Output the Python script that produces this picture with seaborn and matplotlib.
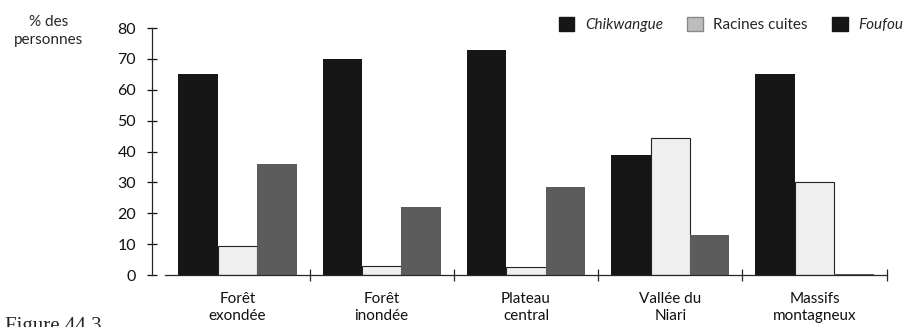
import matplotlib
matplotlib.use("Agg")
import matplotlib.pyplot as plt
from matplotlib.patches import Patch
import seaborn as sns
import pandas as pd

# données
regions = ["Forêt\nexondée", "Forêt\ninondée", "Plateau\ncentral", "Vallée du\nNiari", "Massifs\nmontagneux"]
produits = ["Chikwangue", "Racines cuites", "Foufou"]
chikwangue = [65, 70, 73, 39, 65]
racines_cuites = [9.5, 3, 2.5, 44.5, 30]
foufou = [36, 22, 28.5, 13, 0.3]

df = pd.DataFrame({
    "region": regions * 3,
    "produit": [p for p in produits for _ in regions],
    "pct": chikwangue + racines_cuites + foufou,
})

sns.set_style("white")
plt.rcParams["font.family"] = ["Lato", "DejaVu Sans"]

couleurs = {"Chikwangue": "#161616", "Racines cuites": "#efefef", "Foufou": "#5c5c5c"}

fig = plt.figure(figsize=(9.17, 3.27), dpi=100)
ax = fig.add_axes([0.166, 0.159, 0.801, 0.755])
sns.barplot(data=df, x="region", y="pct", hue="produit", hue_order=produits,
            palette=couleurs, width=0.82, saturation=1, linewidth=0, ax=ax, legend=False)

# contour fin pour les racines cuites
for b in ax.containers[1]:
    b.set_edgecolor("#222222")
    b.set_linewidth(0.8)

ax.set_ylim(0, 80)
ax.set_xlim(-0.59, 4.5)
ax.set_xlabel("")
ax.set_ylabel("")
ax.set_yticks(range(0, 81, 10))
ax.tick_params(axis="y", left=True, direction="inout", length=7, width=0.9,
               labelsize=11.5, pad=8, colors="#111111")
ax.set_xticks(range(5))
ax.set_xticklabels(regions, fontsize=11, linespacing=1.3)
ax.tick_params(axis="x", bottom=False, length=0, pad=12, colors="#111111")
ax.set_xticks([0.5, 1.5, 2.5, 3.5, 4.5], minor=True)
ax.tick_params(axis="x", which="minor", bottom=True, direction="inout", length=8, width=0.9)

for s in ["top", "right"]:
    ax.spines[s].set_visible(False)
ax.spines["left"].set_linewidth(0.9)
ax.spines["bottom"].set_linewidth(0.9)
ax.spines["bottom"].set_bounds(-0.5, 4.5)

fig.text(0.053, 0.905, "% des\npersonnes", ha="center", va="center", fontsize=11, linespacing=1.4)

poignees = [
    Patch(facecolor="#161616", edgecolor="#161616"),
    Patch(facecolor="#bdbdbd", edgecolor="#888888"),
    Patch(facecolor="#161616", edgecolor="#161616"),
]
leg = fig.legend(poignees, produits, loc="center right", bbox_to_anchor=(1.0, 0.925), ncol=3,
                 frameon=False, fontsize=11, handlelength=1.0, handleheight=1.0,
                 handletextpad=0.7, columnspacing=1.6)
for t in leg.get_texts():
    if t.get_text() != "Racines cuites":
        t.set_style("italic")

fig.text(0.005, 0.03, "Figure 44.3", ha="left", va="top", fontsize=15, family="Liberation Serif")

fig.savefig("out.png", dpi=100)
